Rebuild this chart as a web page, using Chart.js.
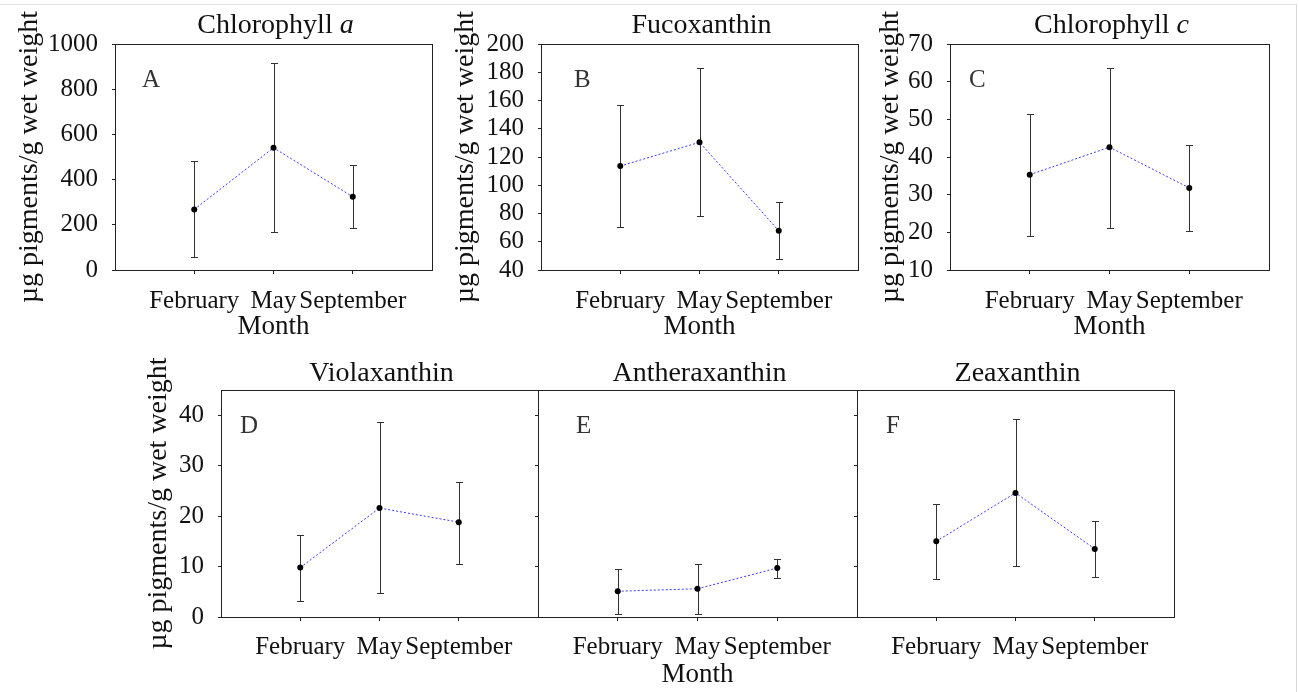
<!DOCTYPE html>
<html><head><meta charset="utf-8">
<script src="https://cdn.jsdelivr.net/npm/chart.js@4.4.1/dist/chart.umd.min.js"></script>
<style>
html,body{margin:0;padding:0;background:#fff;}
#wrap{position:relative;width:1299px;height:692px;overflow:hidden;background:#fff;}
#wrap canvas{position:absolute;left:0;top:0;}
#frame{position:absolute;left:-2px;top:4px;width:1298px;height:700px;border-top:1px solid #e2e2e2;border-right:1px solid #d8d8d8;}
</style></head>
<body><div id="wrap"><div id="frame"></div>
<canvas id="cA" width="1299" height="692"></canvas>
<canvas id="cB" width="1299" height="692"></canvas>
<canvas id="cC" width="1299" height="692"></canvas>
<canvas id="cD" width="1299" height="692"></canvas>
<canvas id="cE" width="1299" height="692"></canvas>
<canvas id="cF" width="1299" height="692"></canvas>
</div>
<script>
// ---- data ----
const months = ['February', 'May', 'September'];
const monthPos = [1, 2, 3];

const chlA = [268, 541, 324];
const chlAHigh = [481, 917, 463];
const chlALow = [57, 168, 185];

const fuco = [113.6, 130.4, 67.8];
const fucoHigh = [156.8, 182.8, 87.9];
const fucoLow = [70.7, 78.2, 47.8];

const chlC = [35.3, 42.6, 31.8];
const chlCHigh = [51.5, 63.5, 43.2];
const chlCLow = [19.0, 21.2, 20.4];

const viola = [9.8, 21.6, 18.8];
const violaHigh = [16.3, 38.6, 26.7];
const violaLow = [3.2, 4.7, 10.6];

const anthera = [5.1, 5.6, 9.7];
const antheraHigh = [9.5, 10.6, 11.5];
const antheraLow = [0.5, 0.5, 7.8];

const zea = [15.0, 24.6, 13.5];
const zeaHigh = [22.5, 39.2, 19.0];
const zeaLow = [7.5, 10.1, 8.0];

const ticksA = [0, 200, 400, 600, 800, 1000];
const ticksB = [40, 60, 80, 100, 120, 140, 160, 180, 200];
const ticksC = [10, 20, 30, 40, 50, 60, 70];
const ticksXan = [0, 10, 20, 30, 40];
const xanMax = 45;

const yTitle = 'µg pigments/g wet weight';
const xTitle = 'Month';

// ---- drawing ----
const SERIF = "'Liberation Serif', 'Times New Roman', serif";
const W = 1299, H = 692;

const deco = {
  id: 'deco',
  beforeDatasetsDraw(chart, args, o) {
    const xs = chart.scales.x, ys = chart.scales.y, ctx = chart.ctx;
    ctx.save();
    ctx.strokeStyle = '#333';
    ctx.lineWidth = 1;
    o.high.forEach((h, i) => {
      const x = Math.round(xs.getPixelForValue(monthPos[i])) + 0.5;
      const y1 = Math.round(ys.getPixelForValue(h)) + 0.5;
      const y2 = Math.round(ys.getPixelForValue(o.low[i])) + 0.5;
      ctx.beginPath();
      ctx.moveTo(x, y1); ctx.lineTo(x, y2);
      ctx.moveTo(x - 3.5, y1); ctx.lineTo(x + 3.5, y1);
      ctx.moveTo(x - 3.5, y2); ctx.lineTo(x + 3.5, y2);
      ctx.stroke();
    });
    ctx.restore();
  },
  afterDraw(chart, args, o) {
    const a = chart.chartArea, ctx = chart.ctx;
    ctx.save();
    ctx.strokeStyle = '#222';
    ctx.lineWidth = 1;
    const l = Math.round(a.left) + 0.5, t = Math.round(a.top) + 0.5;
    const r = Math.round(a.right) + 0.5, b = Math.round(a.bottom) + 0.5;
    ctx.strokeRect(l, t, r - l, b - t);
    // title (with optional italic part)
    ctx.fillStyle = '#111';
    ctx.textBaseline = 'alphabetic';
    ctx.textAlign = 'left';
    const fN = '28px ' + SERIF, fI = 'italic 28px ' + SERIF;
    ctx.font = fN; const w1 = ctx.measureText(o.title[0]).width;
    let w2 = 0;
    if (o.title[1]) { ctx.font = fI; w2 = ctx.measureText(o.title[1]).width; }
    const cx = (a.left + a.right) / 2 + 2;
    const x0 = cx - (w1 + w2) / 2;
    const by = a.top - o.titleGap;
    ctx.font = fN; ctx.fillText(o.title[0], x0, by);
    if (o.title[1]) { ctx.font = fI; ctx.fillText(o.title[1], x0 + w1, by); }
    // panel letter
    ctx.font = '25px ' + SERIF;
    ctx.fillStyle = '#333';
    ctx.fillText(o.letter, a.left + o.letterDx, a.top + 43);
    ctx.restore();
  }
};

function makePanel(id, spec) {
  const lhY = 28 * 1.2;
  const leftEdge = spec.yTitleX ? spec.yTitleX - lhY / 2 - 1 : spec.box.l - 10;
  const yW = spec.box.l - leftEdge;
  const xH = spec.xAxisH;
  new Chart(document.getElementById(id), {
    type: 'line',
    data: {
      datasets: [{
        data: spec.values.map((v, i) => ({ x: monthPos[i], y: v })),
        borderColor: '#3a3aff',
        borderWidth: 1,
        borderDash: [2, 2],
        tension: 0,
        fill: false,
        pointRadius: 3,
        pointBackgroundColor: '#000',
        pointBorderColor: '#000',
        pointBorderWidth: 0
      }]
    },
    options: {
      responsive: false,
      animation: false,
      events: [],
      layout: {
        padding: { left: leftEdge, top: spec.box.t, right: W - spec.box.r, bottom: H - spec.box.b - xH }
      },
      plugins: {
        legend: { display: false },
        tooltip: { enabled: false },
        deco: { high: spec.high, low: spec.low, title: spec.title, titleGap: spec.titleGap, letter: spec.letter, letterDx: spec.letterDx }
      },
      scales: {
        x: {
          type: 'linear',
          min: 0, max: 4,
          afterBuildTicks: s => { s.ticks = monthPos.map(v => ({ value: v })); },
          afterFit: s => { s.height = xH; },
          border: { display: false },
          grid: { display: true, drawOnChartArea: false, drawTicks: true, tickLength: 4, color: '#222', lineWidth: 1 },
          ticks: {
            autoSkip: false, maxRotation: 0, minRotation: 0,
            padding: spec.xTickPad,
            color: '#111',
            font: { family: SERIF, size: 25 },
            callback: v => months[monthPos.indexOf(v)] || ''
          },
          title: {
            display: !!spec.xTitle, text: xTitle, color: '#111',
            font: { family: SERIF, size: 27 }, padding: 0
          }
        },
        y: {
          type: 'linear',
          min: spec.min, max: spec.max,
          afterBuildTicks: s => { s.ticks = spec.ticks.map(v => ({ value: v })); },
          afterFit: s => { s.width = yW; },
          border: { display: false },
          grid: { display: true, drawOnChartArea: false, drawTicks: true, tickLength: 3, color: '#222', lineWidth: 1 },
          ticks: {
            display: spec.yLabels,
            autoSkip: false,
            padding: 14,
            color: '#111',
            font: { family: SERIF, size: 25 },
            callback: v => String(v)
          },
          title: {
            display: !!spec.yTitleX, text: yTitle, color: '#111',
            font: { family: SERIF, size: 28 }, padding: { top: 1, bottom: 0 }
          }
        }
      }
    },
    plugins: [deco]
  });
}

const topRow = { t: 44, b: 270 };
const botRow = { t: 390, b: 617 };

makePanel('cA', {
  box: { l: 115, r: 432, ...topRow }, values: chlA, high: chlAHigh, low: chlALow,
  min: ticksA[0], max: ticksA[ticksA.length - 1], ticks: ticksA, yLabels: true,
  yTitleX: 30, xTitle: true, xAxisH: 73, xTickPad: 12,
  title: ['Chlorophyll ', 'a'], titleGap: 11, letter: 'A', letterDx: 27
});
makePanel('cB', {
  box: { l: 541, r: 858, ...topRow }, values: fuco, high: fucoHigh, low: fucoLow,
  min: ticksB[0], max: ticksB[ticksB.length - 1], ticks: ticksB, yLabels: true,
  yTitleX: 466, xTitle: true, xAxisH: 73, xTickPad: 12,
  title: ['Fucoxanthin'], titleGap: 11, letter: 'B', letterDx: 33
});
makePanel('cC', {
  box: { l: 950, r: 1269, ...topRow }, values: chlC, high: chlCHigh, low: chlCLow,
  min: ticksC[0], max: ticksC[ticksC.length - 1], ticks: ticksC, yLabels: true,
  yTitleX: 891, xTitle: true, xAxisH: 73, xTickPad: 12,
  title: ['Chlorophyll ', 'c'], titleGap: 11, letter: 'C', letterDx: 19
});
makePanel('cD', {
  box: { l: 221, r: 538, ...botRow }, values: viola, high: violaHigh, low: violaLow,
  min: 0, max: xanMax, ticks: ticksXan, yLabels: true,
  yTitleX: 159, xTitle: false, xAxisH: 74, xTickPad: 11,
  title: ['Violaxanthin'], titleGap: 9, letter: 'D', letterDx: 19
});
makePanel('cE', {
  box: { l: 538, r: 857, ...botRow }, values: anthera, high: antheraHigh, low: antheraLow,
  min: 0, max: xanMax, ticks: ticksXan, yLabels: false,
  yTitleX: 0, xTitle: true, xAxisH: 74, xTickPad: 11,
  title: ['Antheraxanthin'], titleGap: 9, letter: 'E', letterDx: 38
});
makePanel('cF', {
  box: { l: 857, r: 1174, ...botRow }, values: zea, high: zeaHigh, low: zeaLow,
  min: 0, max: xanMax, ticks: ticksXan, yLabels: false,
  yTitleX: 0, xTitle: false, xAxisH: 74, xTickPad: 11,
  title: ['Zeaxanthin'], titleGap: 9, letter: 'F', letterDx: 29
});
</script>
</body></html>
